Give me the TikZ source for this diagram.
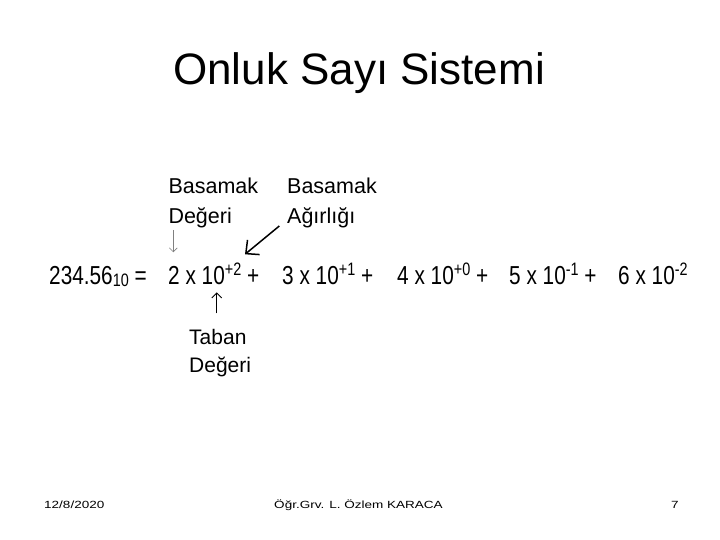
\documentclass[tikz,border=0pt]{standalone}
\usepackage{fontspec}
\setmainfont{Liberation Sans}
\newfontfamily\eqfont[FakeStretch=0.8]{Liberation Sans}
\newfontfamily\footfont[FakeStretch=1.3]{Liberation Sans}
\usetikzlibrary{arrows.meta}
\usetikzlibrary{calc}

\newcommand{\pow}[1]{\raisebox{9pt}{\fontsize{18}{20}\selectfont #1}}
\newcommand{\subidx}[1]{\raisebox{-2pt}{\fontsize{18}{20}\selectfont #1}}

\begin{document}
\begin{tikzpicture}
	[x=1pt,y=-1pt,
	 every node/.style={inner sep=0pt, anchor=base west},
	 eqterm/.style={font=\eqfont\fontsize{26}{30}\selectfont},
	 lbl/.style={align=left, font=\fontsize{21.5}{30}\selectfont},
	 foot/.style={font=\footfont\fontsize{10.4}{12}\selectfont}];

	\useasboundingbox (0,0) rectangle (720,540);

	%Title
	\node[anchor=base, font=\fontsize{44}{50}\selectfont] (title) at (359,85) {Onluk Sayı Sistemi};

	%Labels (base = last line)
	\node[lbl] (degeri) at (168.3,223.3) {Basamak\\Değeri};
	\node[lbl] (agirlik) at (287,223.3) {Basamak\\Ağırlığı};
	\node[lbl, font=\fontsize{21}{28}\selectfont] (taban) at (189,372.3) {Taban\\Değeri};

	%Equation
	\node[eqterm] (lhs) at (49,284) {234.56\subidx{10} =};
	\node[eqterm] (t2) at (168,284) {2 x 10\pow{+2} +};
	\node[eqterm] (t1) at (282,284) {3 x 10\pow{+1} +};
	\node[eqterm] (t0) at (397,284) {4 x 10\pow{+0} +};
	\node[eqterm] (tm1) at (509,284) {5 x 10\pow{-1} +};
	\node[eqterm] (tm2) at (618,284) {6 x 10\pow{-2}};

	%Arrows
	\coordinate (degS) at (173.3,230);
	\coordinate (degE) at (173.3,252.3);
	\coordinate (agrS) at (279.3,226);
	\coordinate (agrE) at (245,254.3);
	\coordinate (tabS) at (216.7,313.3);
	\coordinate (tabE) at (216.7,292.3);
	\draw[gray, line width=0.7pt, -{Straight Barb[length=4pt,width=8pt]}] (degS) -- (degE);
	\draw[line width=1.5pt, -{Straight Barb[length=10pt,width=19pt]}] (agrS) -- (agrE);
	\draw[line width=0.9pt, -{Straight Barb[length=5pt,width=10pt]}] (tabS) -- (tabE);

	%Footer
	\node[foot] (date) at (44,508.3) {12/8/2020};
	\node[foot, anchor=base] (author) at (358.5,508.3) {Öğr.Grv. L. Özlem KARACA};
	\node[foot] (page) at (671,508.3) {7};
\end{tikzpicture}
\end{document}
